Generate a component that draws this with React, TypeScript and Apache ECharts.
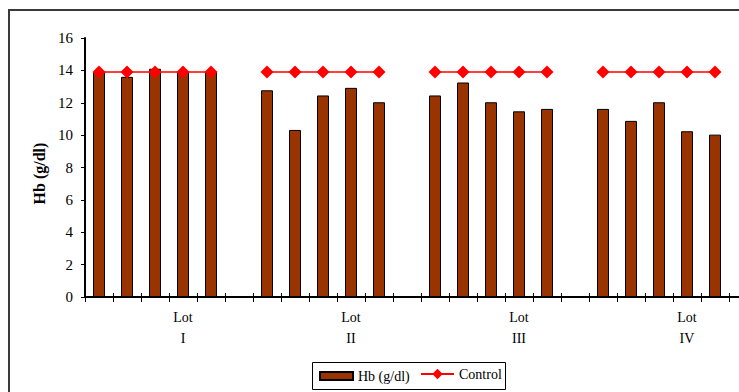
import React, { useEffect, useRef } from "react";
import * as echarts from "echarts";

// Category slots: 4 lots of 5 animals, separated by empty slots
const categories: string[] = [
  "", "", "", "Lot\nI", "", "",
  "", "", "", "Lot\nII", "", "",
  "", "", "", "Lot\nIII", "", "",
  "", "", "", "Lot\nIV", "",
];

// Haemoglobin per animal (g/dl); null marks the gap slots between lots
const hbValues: (number | null)[] = [
  13.9, 13.6, 14.1, 13.95, 13.93, null,
  12.77, 10.32, 12.45, 12.92, 12.03, null,
  12.45, 13.25, 12.03, 11.47, 11.62, null,
  11.62, 10.88, 12.03, 10.24, 10.03,
];

// Control reference level, drawn only across each lot
const controlValues: (number | null)[] = [
  13.9, 13.9, 13.9, 13.9, 13.9, null,
  13.9, 13.9, 13.9, 13.9, 13.9, null,
  13.9, 13.9, 13.9, 13.9, 13.9, null,
  13.9, 13.9, 13.9, 13.9, 13.9,
];

const yTicks = { min: 0, max: 16, interval: 2 };

const FONT = "'Liberation Serif', 'Times New Roman', serif";

export default function App() {
  const ref = useRef<HTMLDivElement>(null);

  useEffect(() => {
    if (!ref.current) return;
    const chart = echarts.init(ref.current, undefined, { renderer: "svg" });
    const legendText = { fontFamily: FONT, fontSize: 14, color: "#000" };
    chart.setOption({
      animation: false,
      backgroundColor: "#ffffff",
      textStyle: { fontFamily: FONT, color: "#000" },
      graphic: [
        // outer chart frame
        {
          type: "rect",
          shape: { x: 9, y: 10, width: 760, height: 400 },
          style: { fill: "none", stroke: "#3a3a3a", lineWidth: 2 },
          z: 0,
        },
        // plot area continues past the right edge
        {
          type: "line",
          shape: { x1: 728, y1: 297, x2: 745, y2: 297 },
          style: { stroke: "#000", lineWidth: 2 },
          z: 5,
        },
        // legend box
        {
          type: "rect",
          shape: { x: 312.5, y: 362.5, width: 193, height: 27 },
          style: { fill: "none", stroke: "#000", lineWidth: 1 },
          z: 5,
        },
      ],
      grid: { left: 85, top: 38, height: 259, width: 644, containLabel: false },
      legend: [
        {
          left: 319,
          top: 369,
          padding: 0,
          itemWidth: 33,
          itemHeight: 8,
          textStyle: legendText,
          data: [{ name: "Hb (g/dl)", icon: "rect" }],
        },
        {
          left: 420,
          top: 367,
          padding: 0,
          itemWidth: 33,
          itemHeight: 13,
          textStyle: legendText,
          data: [{ name: "Control" }],
        },
      ],
      xAxis: [
        {
          type: "category",
          data: categories,
          boundaryGap: true,
          axisLine: { lineStyle: { color: "#000", width: 2 } },
          axisTick: { show: true, interval: 0, length: 5, lineStyle: { color: "#000", width: 1 } },
          axisLabel: {
            interval: 0,
            fontFamily: FONT,
            fontSize: 14,
            color: "#000",
            lineHeight: 21,
            margin: 10,
          },
        },
        {
          type: "category",
          data: categories,
          position: "bottom",
          boundaryGap: true,
          axisLine: { show: false },
          axisTick: { show: true, inside: true, interval: 0, length: 4, lineStyle: { color: "#000", width: 1 } },
          axisLabel: { show: false },
        },
      ],
      yAxis: {
        type: "value",
        min: yTicks.min,
        max: yTicks.max,
        interval: yTicks.interval,
        name: "Hb (g/dl)",
        nameLocation: "middle",
        nameGap: 38,
        nameTextStyle: {
          fontFamily: FONT,
          fontSize: 16,
          fontWeight: "bold",
          color: "#000",
          padding: [0, 12, 0, 0],
        },
        axisLine: { show: true, lineStyle: { color: "#000", width: 2 } },
        axisTick: { show: true, length: 4, lineStyle: { color: "#000", width: 1 } },
        axisLabel: { fontFamily: FONT, fontSize: 15, color: "#000", margin: 12 },
        splitLine: { show: false },
      },
      series: [
        {
          name: "Hb (g/dl)",
          type: "bar",
          data: hbValues,
          barWidth: 12,
          itemStyle: { color: "#993300", borderColor: "#000", borderWidth: 1 },
          z: 2,
        },
        {
          name: "Control",
          type: "line",
          data: controlValues,
          connectNulls: false,
          symbol: "diamond",
          symbolSize: 13,
          showAllSymbol: true,
          lineStyle: { color: "#ff0000", width: 1.5 },
          itemStyle: { color: "#ff0000" },
          z: 3,
        },
      ],
    });
    return () => chart.dispose();
  }, []);

  return (
    <div
      ref={ref}
      style={{ position: "fixed", left: 0, top: 0, width: 739, height: 392, background: "#fff" }}
    />
  );
}
